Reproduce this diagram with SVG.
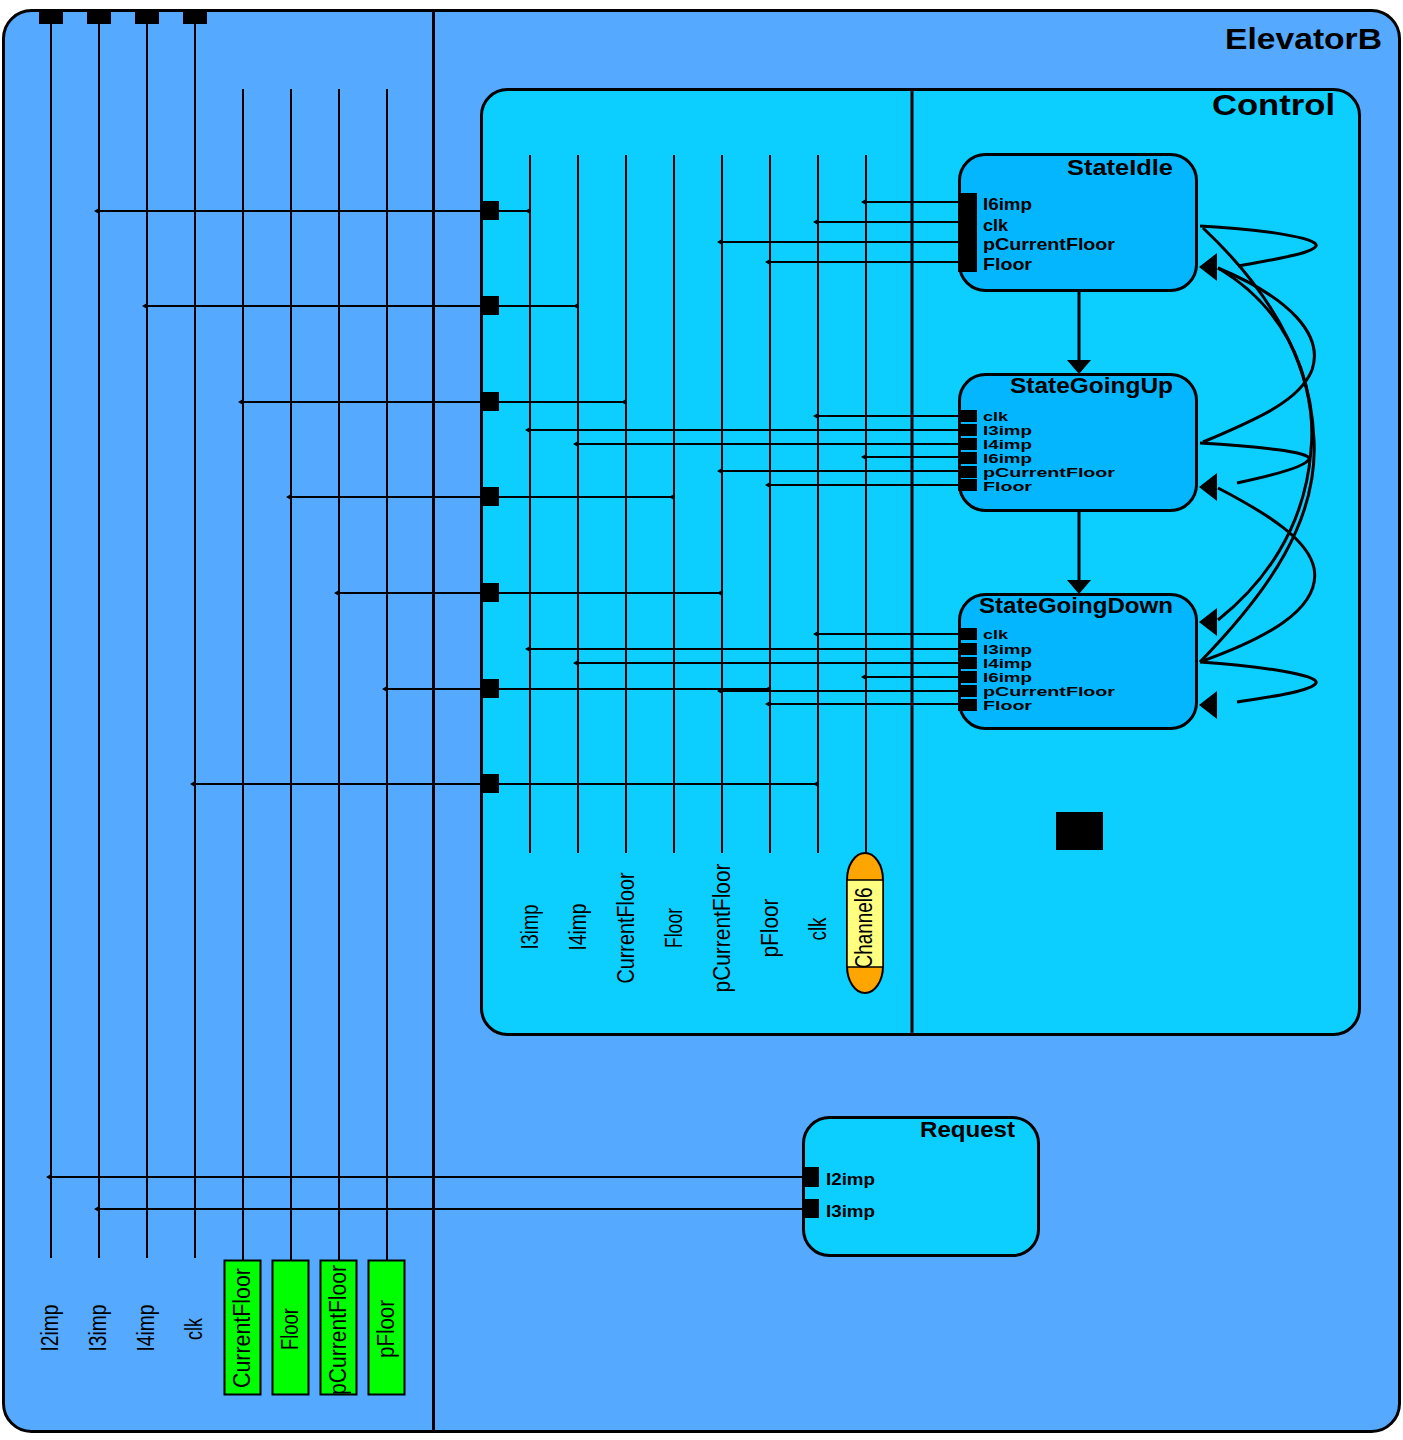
<svg xmlns="http://www.w3.org/2000/svg" xmlns:xlink="http://www.w3.org/1999/xlink" width="1403" height="1440" viewBox="0 0 1403 1440">
<defs>
<style>
.bx{stroke:#000;stroke-width:3}
.outer{fill:#55aaff}
.ctl{fill:#0ccfff}
.state{fill:#04b6fd}
.w{stroke:#000;stroke-width:2;fill:none}
.tr{stroke:#000;stroke-width:3;fill:none}
.port{fill:#000}
.gbox{fill:#00ff00;stroke:#000;stroke-width:2}
.sig{font-family:"Liberation Sans",Arial,sans-serif;font-size:23px;fill:#000}
.pl{font-family:"Liberation Sans",Arial,sans-serif;font-weight:bold;font-size:17px;fill:#000}
.pl2{font-family:"Liberation Sans",Arial,sans-serif;font-weight:bold;font-size:13px;fill:#000}
.ttl{font-family:"Liberation Sans",Arial,sans-serif;font-weight:bold;font-size:22px;fill:#000}
.big{font-family:"Liberation Sans",Arial,sans-serif;font-weight:bold;font-size:29px;fill:#000}
</style>
<path id="ar" d="M-5,0 L1,-3.5 L1,3.5 Z" fill="#000"/>
<path id="ah" d="M0,0 L18,-14 L18,14 Z" fill="#000"/>
<path id="ahd" d="M0,0 L-12,-14 L12,-14 Z" fill="#000"/>
</defs>

<g id="ElevatorB">
<rect class="bx outer" x="3.5" y="10.5" width="1396" height="1421" rx="28"/>
<line x1="433.5" y1="10" x2="433.5" y2="1431" stroke="#000" stroke-width="3"/>
<text class="big" x="1382" y="49" text-anchor="end" textLength="157" lengthAdjust="spacingAndGlyphs">ElevatorB</text>
<rect class="port" x="39" y="11" width="24" height="13"/>
<rect class="port" x="87" y="11" width="24" height="13"/>
<rect class="port" x="135" y="11" width="24" height="13"/>
<rect class="port" x="183" y="11" width="24" height="13"/>
</g>

<g id="Control">
<rect class="bx ctl" x="481.5" y="89.5" width="878" height="945" rx="26"/>
<line x1="912" y1="89" x2="912" y2="1035" stroke="#000" stroke-width="3"/>
<text class="big" x="1335" y="115" text-anchor="end" textLength="123" lengthAdjust="spacingAndGlyphs">Control</text>
</g>

<g id="Request">
<rect class="bx ctl" x="803.5" y="1117.5" width="235" height="138" rx="26"/>
<text class="ttl" x="1015" y="1137" text-anchor="end" textLength="95" lengthAdjust="spacingAndGlyphs">Request</text>
<text class="pl" x="826" y="1185" textLength="49" lengthAdjust="spacingAndGlyphs">I2imp</text>
<text class="pl" x="826" y="1217" textLength="49" lengthAdjust="spacingAndGlyphs">I3imp</text>
</g>

<g id="connectors">
<path class="w" d="M51,23V1258M99,23V1258M147,23V1258M195,23V1258"/>
<path class="w" d="M243,89V1260M291,89V1260M339,89V1260M387,89V1260"/>
<path class="w" d="M530,155V853M578,155V853M626,155V853M674,155V853M722,155V853M770,155V853M818,155V853M866,155V853"/>
<path class="w" d="M99,211H530M147,306H578M243,402H626M291,497H674M339,593H722M387,689H770M195,784H818"/>
<path class="w" d="M51,1177H802M99,1209H802"/>
<path class="w" d="M866,202H958M818,222H958M722,242H958M770,262H958"/>
<path class="w" d="M818,416H958M530,430H958M578,444H958M866,457H958M722,471H958M770,485H958"/>
<path class="w" d="M818,634H958M530,649H958M578,663H958M866,677H958M722,691H958M770,704H958"/>
<use xlink:href="#ar" x="99" y="211"/><use xlink:href="#ar" x="530" y="211"/>
<use xlink:href="#ar" x="147" y="306"/><use xlink:href="#ar" x="578" y="306"/>
<use xlink:href="#ar" x="243" y="402"/><use xlink:href="#ar" x="626" y="402"/>
<use xlink:href="#ar" x="291" y="497"/><use xlink:href="#ar" x="674" y="497"/>
<use xlink:href="#ar" x="339" y="593"/><use xlink:href="#ar" x="722" y="593"/>
<use xlink:href="#ar" x="387" y="689"/><use xlink:href="#ar" x="770" y="689"/>
<use xlink:href="#ar" x="195" y="784"/><use xlink:href="#ar" x="818" y="784"/>
<use xlink:href="#ar" x="51" y="1177"/><use xlink:href="#ar" x="99" y="1209"/>
<use xlink:href="#ar" x="866" y="202"/><use xlink:href="#ar" x="818" y="222"/><use xlink:href="#ar" x="722" y="242"/><use xlink:href="#ar" x="770" y="262"/>
<use xlink:href="#ar" x="818" y="416"/><use xlink:href="#ar" x="530" y="430"/><use xlink:href="#ar" x="578" y="444"/><use xlink:href="#ar" x="866" y="457"/><use xlink:href="#ar" x="722" y="471"/><use xlink:href="#ar" x="770" y="485"/>
<use xlink:href="#ar" x="818" y="634"/><use xlink:href="#ar" x="530" y="649"/><use xlink:href="#ar" x="578" y="663"/><use xlink:href="#ar" x="866" y="677"/><use xlink:href="#ar" x="722" y="691"/><use xlink:href="#ar" x="770" y="704"/>
<path class="tr" d="M1079,292V362"/><use xlink:href="#ahd" x="1079" y="374"/>
<path class="tr" d="M1079,512V582"/><use xlink:href="#ahd" x="1079" y="594"/>
<path class="tr" d="M1200,226 C1260,229 1320,238 1316,246 C1312,254 1270,260 1238,266"/>
<path class="tr" d="M1200,443 C1255,446 1312,452 1309,459 C1306,467 1270,476 1237,483"/>
<path class="tr" d="M1200,662 C1260,666 1320,675 1316,683 C1312,691 1270,697 1237,702"/>
<path class="tr" d="M1203,228 C1280,300 1318,380 1311,450 C1305,530 1262,585 1218,620"/>
<path class="tr" d="M1200,662 C1270,590 1318,520 1314,440 C1310,352 1272,300 1218,268"/>
<path class="tr" d="M1203,442 C1260,418 1300,400 1312,370 C1324,335 1290,298 1218,268"/>
<path class="tr" d="M1200,662 C1262,640 1322,610 1314,568 C1308,540 1270,515 1218,488"/>
<use xlink:href="#ah" x="1199" y="267"/>
<use xlink:href="#ah" x="1199" y="487"/>
<use xlink:href="#ah" x="1199" y="622"/>
<use xlink:href="#ah" x="1199" y="705"/>
</g>

<g id="Control-ports">
<rect class="port" x="481" y="201" width="18" height="19"/>
<rect class="port" x="481" y="296" width="18" height="19"/>
<rect class="port" x="481" y="392" width="18" height="19"/>
<rect class="port" x="481" y="487" width="18" height="19"/>
<rect class="port" x="481" y="583" width="18" height="19"/>
<rect class="port" x="481" y="679" width="18" height="19"/>
<rect class="port" x="481" y="774" width="18" height="19"/>
</g>

<g id="Request-ports">
<rect class="port" x="802" y="1167" width="17" height="20"/>
<rect class="port" x="802" y="1199" width="17" height="19"/>
</g>

<g id="StateIdle">
<rect class="bx state" x="959.5" y="154.5" width="237" height="136" rx="26"/>
<rect class="port" x="958" y="193" width="19" height="79"/>
<text class="ttl" x="1173" y="175" text-anchor="end" textLength="106" lengthAdjust="spacingAndGlyphs">StateIdle</text>
<text class="pl" x="983" y="210" textLength="49" lengthAdjust="spacingAndGlyphs">I6imp</text>
<text class="pl" x="983" y="231" textLength="25" lengthAdjust="spacingAndGlyphs">clk</text>
<text class="pl" x="983" y="250" textLength="132" lengthAdjust="spacingAndGlyphs">pCurrentFloor</text>
<text class="pl" x="983" y="270" textLength="49" lengthAdjust="spacingAndGlyphs">Floor</text>
</g>

<g id="StateGoingUp">
<rect class="bx state" x="959.5" y="374.5" width="237" height="136" rx="26"/>
<rect class="port" x="958" y="410" width="19" height="12"/>
<rect class="port" x="958" y="424" width="19" height="12"/>
<rect class="port" x="958" y="438" width="19" height="12"/>
<rect class="port" x="958" y="452" width="19" height="12"/>
<rect class="port" x="958" y="466" width="19" height="12"/>
<rect class="port" x="958" y="479" width="19" height="12"/>
<text class="ttl" x="1173" y="393" text-anchor="end" textLength="163" lengthAdjust="spacingAndGlyphs">StateGoingUp</text>
<text class="pl2" x="983" y="421" textLength="25" lengthAdjust="spacingAndGlyphs">clk</text>
<text class="pl2" x="983" y="435" textLength="49" lengthAdjust="spacingAndGlyphs">I3imp</text>
<text class="pl2" x="983" y="449" textLength="49" lengthAdjust="spacingAndGlyphs">I4imp</text>
<text class="pl2" x="983" y="463" textLength="49" lengthAdjust="spacingAndGlyphs">I6imp</text>
<text class="pl2" x="983" y="477" textLength="132" lengthAdjust="spacingAndGlyphs">pCurrentFloor</text>
<text class="pl2" x="983" y="491" textLength="49" lengthAdjust="spacingAndGlyphs">Floor</text>
</g>

<g id="StateGoingDown">
<rect class="bx state" x="959.5" y="594.5" width="237" height="134" rx="26"/>
<rect class="port" x="958" y="628" width="19" height="12"/>
<rect class="port" x="958" y="643" width="19" height="12"/>
<rect class="port" x="958" y="657" width="19" height="12"/>
<rect class="port" x="958" y="671" width="19" height="12"/>
<rect class="port" x="958" y="685" width="19" height="12"/>
<rect class="port" x="958" y="699" width="19" height="12"/>
<text class="ttl" x="1173" y="613" text-anchor="end" textLength="194" lengthAdjust="spacingAndGlyphs">StateGoingDown</text>
<text class="pl2" x="983" y="639" textLength="25" lengthAdjust="spacingAndGlyphs">clk</text>
<text class="pl2" x="983" y="654" textLength="49" lengthAdjust="spacingAndGlyphs">I3imp</text>
<text class="pl2" x="983" y="668" textLength="49" lengthAdjust="spacingAndGlyphs">I4imp</text>
<text class="pl2" x="983" y="682" textLength="49" lengthAdjust="spacingAndGlyphs">I6imp</text>
<text class="pl2" x="983" y="696" textLength="132" lengthAdjust="spacingAndGlyphs">pCurrentFloor</text>
<text class="pl2" x="983" y="710" textLength="49" lengthAdjust="spacingAndGlyphs">Floor</text>
</g>

<g id="Junction">
<rect class="port" x="1056" y="812" width="47" height="38"/>
</g>

<g id="Channel6">
<rect x="847" y="853" width="36" height="140" rx="18" ry="27" fill="#ffa500" stroke="#000" stroke-width="2"/>
<rect x="847" y="880" width="36" height="87" fill="#ffff80" stroke="#000" stroke-width="1.5"/>
<text class="sig" transform="translate(872,928) rotate(-90)" text-anchor="middle" textLength="81" lengthAdjust="spacingAndGlyphs">Channel6</text>
</g>

<g id="ControlSignals">
<text class="sig" transform="translate(537.5,927) rotate(-90)" text-anchor="middle" textLength="45" lengthAdjust="spacingAndGlyphs">I3imp</text>
<text class="sig" transform="translate(585.5,927) rotate(-90)" text-anchor="middle" textLength="47" lengthAdjust="spacingAndGlyphs">I4imp</text>
<text class="sig" transform="translate(633.5,928) rotate(-90)" text-anchor="middle" textLength="111" lengthAdjust="spacingAndGlyphs">CurrentFloor</text>
<text class="sig" transform="translate(681.5,928) rotate(-90)" text-anchor="middle" textLength="40" lengthAdjust="spacingAndGlyphs">Floor</text>
<text class="sig" transform="translate(729.5,928) rotate(-90)" text-anchor="middle" textLength="129" lengthAdjust="spacingAndGlyphs">pCurrentFloor</text>
<text class="sig" transform="translate(777.5,928) rotate(-90)" text-anchor="middle" textLength="59" lengthAdjust="spacingAndGlyphs">pFloor</text>
<text class="sig" transform="translate(825.5,929) rotate(-90)" text-anchor="middle" textLength="23" lengthAdjust="spacingAndGlyphs">clk</text>
</g>

<g id="ElevatorSignals">
<text class="sig" transform="translate(58,1328) rotate(-90)" text-anchor="middle" textLength="47" lengthAdjust="spacingAndGlyphs">I2imp</text>
<text class="sig" transform="translate(106,1328) rotate(-90)" text-anchor="middle" textLength="47" lengthAdjust="spacingAndGlyphs">I3imp</text>
<text class="sig" transform="translate(154,1328) rotate(-90)" text-anchor="middle" textLength="47" lengthAdjust="spacingAndGlyphs">I4imp</text>
<text class="sig" transform="translate(202,1329) rotate(-90)" text-anchor="middle" textLength="22" lengthAdjust="spacingAndGlyphs">clk</text>
</g>

<g id="CurrentFloor">
<rect class="gbox" x="224.5" y="1260.5" width="36" height="134"/>
<text class="sig" transform="translate(250,1328) rotate(-90)" text-anchor="middle" textLength="120" lengthAdjust="spacingAndGlyphs">CurrentFloor</text>
</g>
<g id="Floor">
<rect class="gbox" x="272.5" y="1260.5" width="36" height="134"/>
<text class="sig" transform="translate(298,1329) rotate(-90)" text-anchor="middle" textLength="42" lengthAdjust="spacingAndGlyphs">Floor</text>
</g>
<g id="pCurrentFloor">
<rect class="gbox" x="320.5" y="1260.5" width="36" height="134"/>
<text class="sig" transform="translate(346,1330) rotate(-90)" text-anchor="middle" textLength="130" lengthAdjust="spacingAndGlyphs">pCurrentFloor</text>
</g>
<g id="pFloor">
<rect class="gbox" x="368.5" y="1260.5" width="36" height="134"/>
<text class="sig" transform="translate(394,1329) rotate(-90)" text-anchor="middle" textLength="58" lengthAdjust="spacingAndGlyphs">pFloor</text>
</g>
</svg>
